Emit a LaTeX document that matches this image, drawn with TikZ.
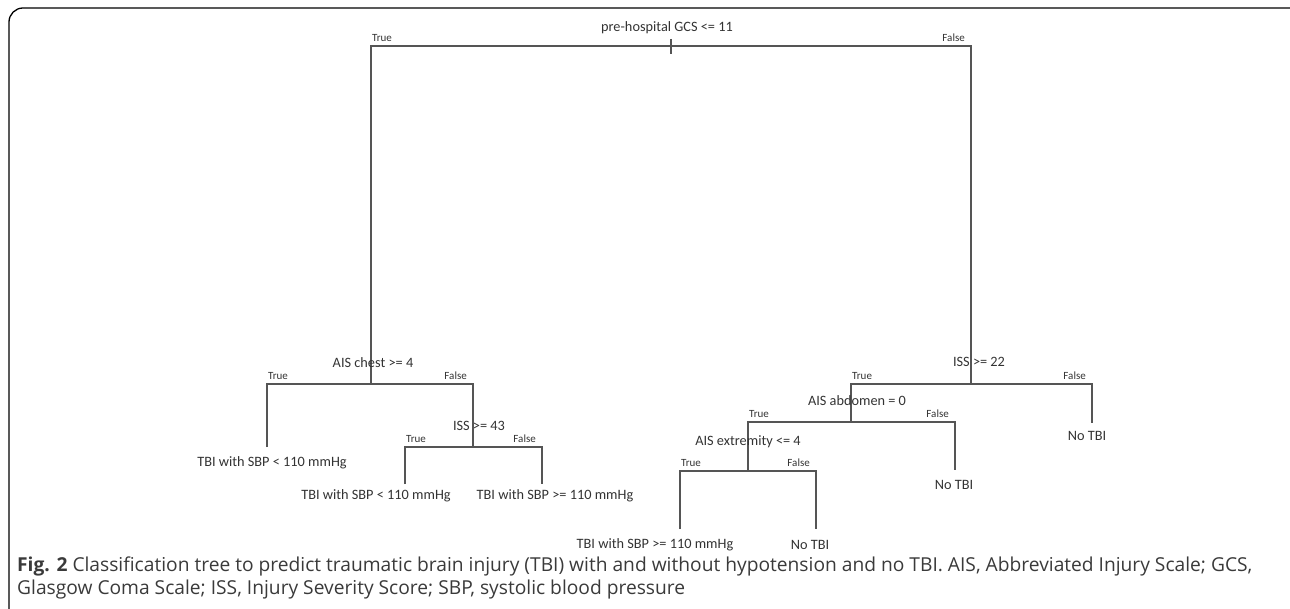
\documentclass[tikz,border=0pt]{standalone}
\usepackage{fontspec}
\setmainfont{Carlito}
\newfontfamily\capfont{Open Sans}
\definecolor{linegray}{HTML}{555555}
\definecolor{textgray}{HTML}{333333}
\definecolor{capgray}{HTML}{3A3A3A}
\begin{document}
\begin{tikzpicture}[x=1pt,y=-1pt,
  br/.style={draw=linegray, line width=1.1pt},
  lab/.style={font=\fontsize{14.3}{16}\selectfont, inner sep=0pt, text=textgray},
  tf/.style={font=\fontsize{11}{12}\selectfont, inner sep=0pt, text=textgray},
  captext/.style={font=\capfont\fontsize{19.2}{22}\selectfont, inner sep=0pt, text=capgray, anchor=west}]
\useasboundingbox (0,0) rectangle (1290,609);
% frame
\draw[line width=1.3pt, rounded corners=14pt] (9,612) -- (9,8) -- (1300,8);

% coordinates
\coordinate (rt1) at (671,39); \coordinate (rt2) at (671,54);
\coordinate (rL) at (371,46); \coordinate (rR) at (971,46);
\coordinate (a) at (371,384); \coordinate (aL) at (267,384); \coordinate (aR) at (473,384);
\coordinate (l1) at (267,447);
\coordinate (b) at (473,447); \coordinate (bL) at (405,447); \coordinate (bR) at (542,447);
\coordinate (l2) at (405,484); \coordinate (l3) at (542,484);
\coordinate (c) at (971,384); \coordinate (cL) at (851,384); \coordinate (cR) at (1092,384);
\coordinate (l4) at (1092,423);
\coordinate (d) at (851,422); \coordinate (dL) at (748,422); \coordinate (dR) at (955,422);
\coordinate (l5) at (955,470);
\coordinate (e) at (748,471); \coordinate (eL) at (680,471); \coordinate (eR) at (816,471);
\coordinate (l6) at (680,529); \coordinate (l7) at (816,529);

% branches
\draw[br] (rt1) -- (rt2);
\draw[br] (a) -- (rL) -- (rR) -- (c);
\draw[br] (l1) -- (aL) -- (aR) -- (b);
\draw[br] (l2) -- (bL) -- (bR) -- (l3);
\draw[br] (d) -- (cL) -- (cR) -- (l4);
\draw[br] (e) -- (dL) -- (dR) -- (l5);
\draw[br] (l6) -- (eL) -- (eR) -- (l7);

% split labels
\node[lab] (root) at (667,28) {pre-hospital GCS <= 11};
\node[lab] (n1) at (373,363) {AIS chest >= 4};
\node[lab] (n2) at (479,426) {ISS >= 43};
\node[lab] (n3) at (979,362) {ISS >= 22};
\node[lab] (n4) at (857,401) {AIS abdomen = 0};
\node[lab] (n5) at (748,442) {AIS extremity <= 4};

% true/false
\node[tf, anchor=south west] (t0) at ([xshift=1pt,yshift=4pt]rL) {True};
\node[tf, anchor=south east] (f0) at ([xshift=-6pt,yshift=4pt]rR) {False};
\node[tf, anchor=south west] (t1) at ([xshift=1pt,yshift=4pt]aL) {True};
\node[tf, anchor=south east] (f1) at ([xshift=-6pt,yshift=4pt]aR) {False};
\node[tf, anchor=south west] (t2) at ([xshift=1pt,yshift=4pt]bL) {True};
\node[tf, anchor=south east] (f2) at ([xshift=-6pt,yshift=4pt]bR) {False};
\node[tf, anchor=south west] (t3) at ([xshift=1pt,yshift=4pt]cL) {True};
\node[tf, anchor=south east] (f3) at ([xshift=-6pt,yshift=4pt]cR) {False};
\node[tf, anchor=south west] (t4) at ([xshift=1pt,yshift=4pt]dL) {True};
\node[tf, anchor=south east] (f4) at ([xshift=-6pt,yshift=4pt]dR) {False};
\node[tf, anchor=south west] (t5) at ([xshift=1pt,yshift=4pt]eL) {True};
\node[tf, anchor=south east] (f5) at ([xshift=-6pt,yshift=4pt]eR) {False};

% leaves
\node[lab] (leaf1) at (272,463) {TBI with SBP < 110 mmHg};
\node[lab] (leaf2) at (376,496) {TBI with SBP < 110 mmHg};
\node[lab] (leaf3) at (555,496) {TBI with SBP >= 110 mmHg};
\node[lab] (leaf4) at (1087,436) {No TBI};
\node[lab] (leaf5) at (954,485) {No TBI};
\node[lab] (leaf6) at (655,545) {TBI with SBP >= 110 mmHg};
\node[lab] (leaf7) at (810,545) {No TBI};

% caption
\node[captext] (cap1) at (17,566) {\textbf{Fig. 2} Classification tree to predict traumatic brain injury (TBI) with and without hypotension and no TBI. AIS, Abbreviated Injury Scale; GCS,};
\node[captext] (cap2) at (17,590) {Glasgow Coma Scale; ISS, Injury Severity Score; SBP, systolic blood pressure};
\end{tikzpicture}
\end{document}
